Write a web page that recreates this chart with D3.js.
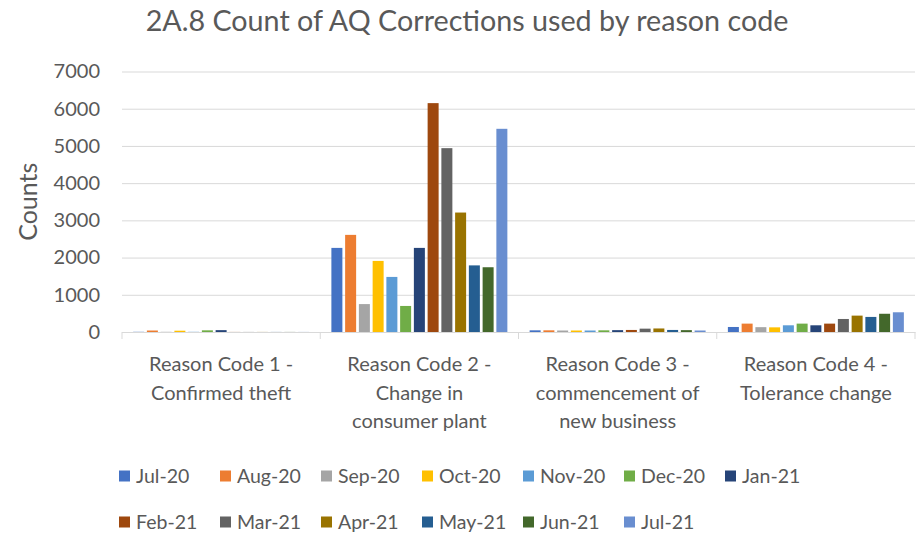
<!DOCTYPE html>
<html><head><meta charset="utf-8">
<script src="https://cdn.jsdelivr.net/npm/d3@7"></script>
<style>
body{margin:0;background:#fff}
svg{display:block}
text{font-family:Lato,"Open Sans",sans-serif;fill:#595959}
</style>
</head><body>
<svg id="chart" width="917" height="533"></svg>
<script>
const title = "2A.8 Count of AQ Corrections used by reason code";
const yLabel = "Counts";
const months = ["Jul-20","Aug-20","Sep-20","Oct-20","Nov-20","Dec-20","Jan-21","Feb-21","Mar-21","Apr-21","May-21","Jun-21","Jul-21"];
const colors = ["#4472C4","#ED7D31","#A5A5A5","#FFC000","#5B9BD5","#70AD47","#264478","#9E480E","#636363","#997300","#255E91","#43682B","#698ED0"];
const categories = ["Reason Code 1 - Confirmed theft","Reason Code 2 - Change in consumer plant","Reason Code 3 - commencement of new business","Reason Code 4 - Tolerance change"];
const categoryLines = [["Reason Code 1 -","Confirmed theft"],["Reason Code 2 -","Change in","consumer plant"],["Reason Code 3 -","commencement of","new business"],["Reason Code 4 -","Tolerance change"]];
const code1 = [5,40,5,35,5,45,50,2,2,2,2,2,2];
const code2 = [2260,2610,750,1910,1480,700,2260,6150,4940,3210,1790,1740,5460];
const code3 = [45,45,40,40,40,45,50,55,90,95,55,50,40];
const code4 = [135,225,130,125,180,225,180,225,350,440,405,490,530];
const yTicks = [0,1000,2000,3000,4000,5000,6000,7000];

const values = [code1, code2, code3, code4];
const svg = d3.select("#chart");
const L = 122, R = 915, T = 71.5, B = 332;

const x0 = d3.scaleBand().domain(categories).range([L, R]).padding(0);
const x1 = d3.scaleBand().domain(months).range([0, x0.bandwidth()]).paddingInner(0.2).paddingOuter(0.81);
const y = d3.scaleLinear().domain([0, 7000]).range([B, T]);
const color = d3.scaleOrdinal().domain(months).range(colors);

// title
svg.append("text").attr("x", 467).attr("y", 31).attr("text-anchor", "middle")
  .style("font-size", "28.7px").text(title);

// y axis with gridlines
const ya = svg.append("g").attr("transform", `translate(${L},0)`)
  .call(d3.axisLeft(y).tickValues(yTicks).tickSize(-(R - L)).tickPadding(22).tickFormat(d3.format("d")));
ya.select(".domain").remove();
ya.selectAll(".tick line").attr("stroke", "#d9d9d9");
ya.selectAll(".tick text").style("font-size", "20px").attr("fill", "#595959");

// y label
svg.append("text").attr("transform", `translate(37,${(T + B) / 2}) rotate(-90)`)
  .attr("text-anchor", "middle").style("font-size", "25px").text(yLabel);

// bars
const groups = svg.append("g").selectAll("g").data(categories).join("g")
  .attr("transform", d => `translate(${x0(d)},0)`);
groups.selectAll("rect").data((d, i) => months.map((m, j) => ({m, v: values[i][j]})))
  .join("rect")
  .attr("x", d => x1(d.m)).attr("width", x1.bandwidth())
  .attr("y", d => y(d.v)).attr("height", d => B - y(d.v))
  .attr("fill", d => color(d.m));

// x axis
const xa = svg.append("g").attr("transform", `translate(0,${B})`)
  .call(d3.axisBottom(x0).tickSize(0).tickPadding(0));
xa.select(".domain").attr("stroke", "#d9d9d9");
xa.selectAll(".tick text").each(function(d, i) {
  const t = d3.select(this).text(null).attr("y", 0).attr("dy", null).style("font-size", "20px");
  categoryLines[i].forEach((ln, k) => {
    t.append("tspan").attr("x", 0).attr("y", 39 + k * 28.5).text(ln);
  });
});
// category boundary ticks
const bounds = categories.map(c => x0(c)).concat([x0.range()[1]]);
svg.append("g").selectAll("line").data(bounds).join("line")
  .attr("x1", d => d).attr("x2", d => d).attr("y1", B).attr("y2", B + 7)
  .attr("stroke", "#d9d9d9");

// legend
const perRow = 7, colW = 101, lx = 119, rowY = [476, 522];
const lg = svg.append("g").selectAll("g").data(months).join("g")
  .attr("transform", (d, i) => `translate(${lx + (i % perRow) * colW},${rowY[Math.floor(i / perRow)]})`);
lg.append("rect").attr("x", 0).attr("y", -5.5).attr("width", 11).attr("height", 11).attr("fill", d => color(d));
lg.append("text").attr("x", 17).attr("dy", "0.36em").style("font-size", "19.5px").text(d => d);
</script>
</body></html>
